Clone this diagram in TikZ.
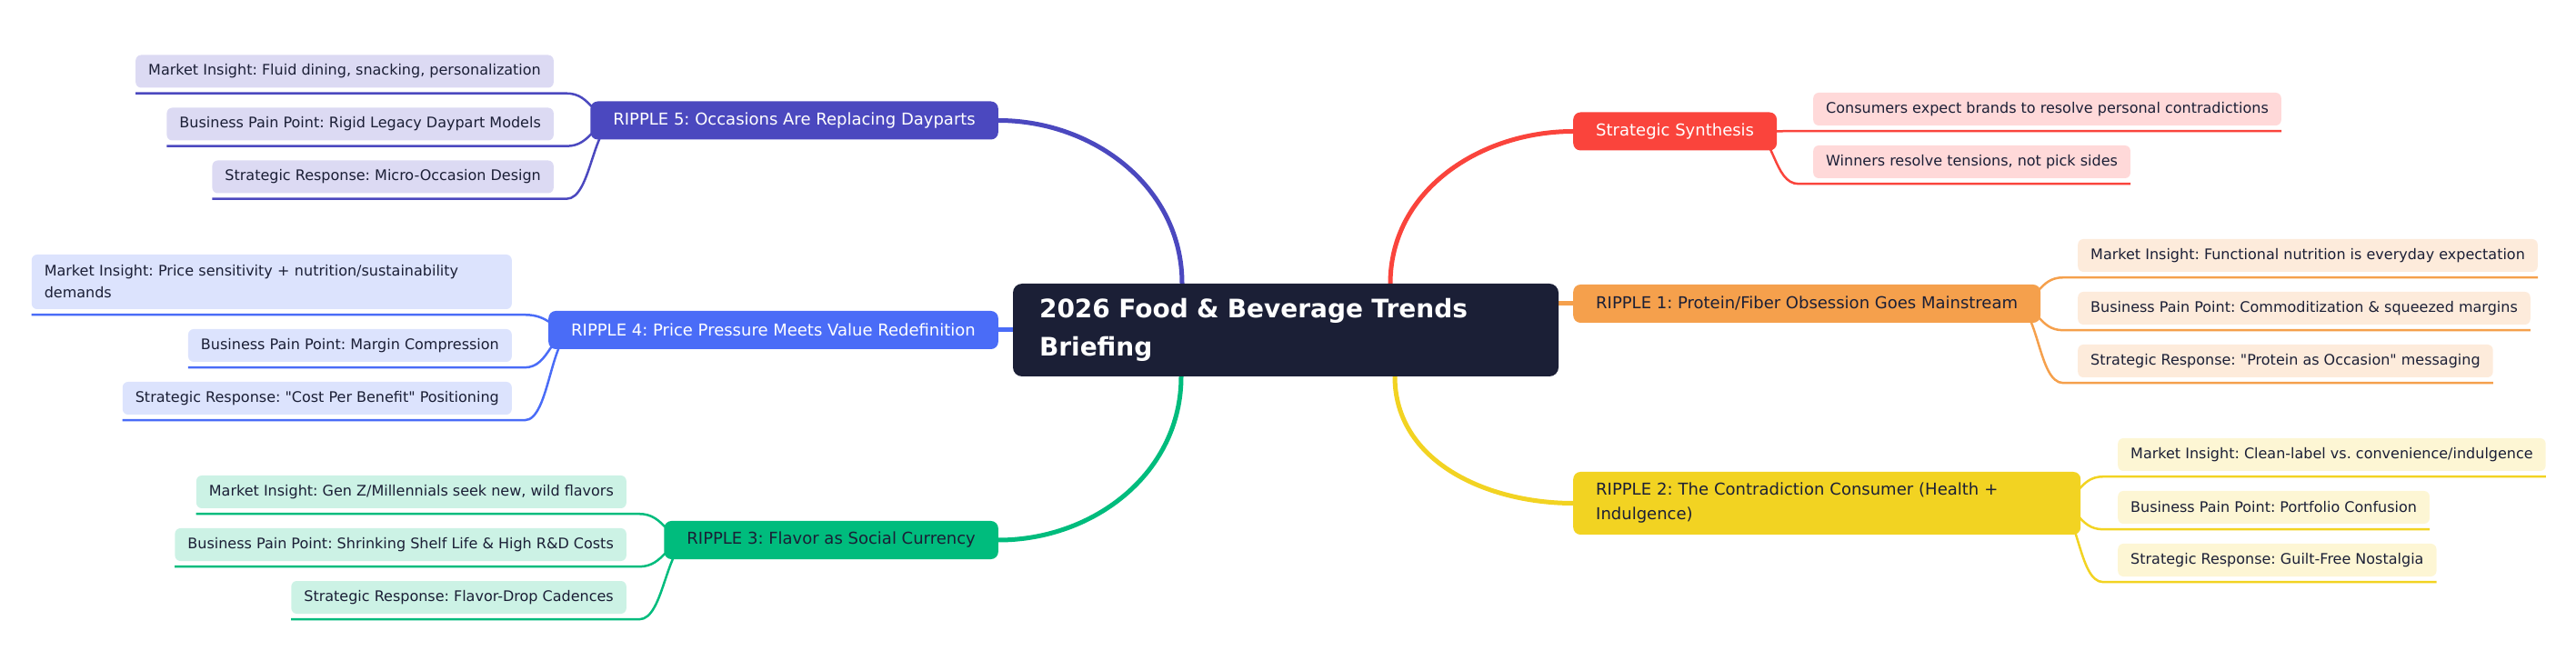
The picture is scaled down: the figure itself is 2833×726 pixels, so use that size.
\documentclass[tikz,border=0pt]{standalone}
\usepackage{fontspec}
\setmainfont{DejaVu Sans}[Ligatures=TeXOff]
\frenchspacing
\usepackage{tikz}
\usetikzlibrary{backgrounds}

\definecolor{ink}{HTML}{1B1F36}
\definecolor{rootbg}{HTML}{1B1F36}
\definecolor{indigo}{HTML}{4B48BF}
\definecolor{indigoL}{HTML}{DCDAF3}
\definecolor{royal}{HTML}{4A6CF7}
\definecolor{royalL}{HTML}{DCE3FD}
\definecolor{emerald}{HTML}{00BC7D}
\definecolor{emeraldL}{HTML}{CCF2E5}
\definecolor{coral}{HTML}{FA443C}
\definecolor{coralL}{HTML}{FFD9D9}
\definecolor{tangerine}{HTML}{F5A04C}
\definecolor{tangerineL}{HTML}{FDEBDB}
\definecolor{mustard}{HTML}{F2D322}
\definecolor{mustardL}{HTML}{FDF6D4}

\begin{document}
\begin{tikzpicture}[x=1pt,y=1pt,
    root node/.style={rectangle,rounded corners=10pt,fill=rootbg,text=white,
      font=\fontsize{28}{42}\selectfont\bfseries,text width=542pt,align=left,
      inner xsep=29pt,minimum height=102pt},
    ripple node/.style={rectangle,rounded corners=8pt,minimum height=42pt,
      inner xsep=25pt,font=\fontsize{18}{27}\selectfont,align=left},
    leaf node/.style={rectangle,rounded corners=6pt,minimum height=36pt,
      inner xsep=14pt,text=ink,font=\fontsize{16}{24}\selectfont,align=left},
    trunk/.style={line width=5pt},
    twig/.style={line width=2.5pt}]
  \useasboundingbox (0,0) rectangle (2833,726);

  %root%
  \node[root node] (root) at (1414,363) {2026 Food \& Beverage Trends\\Briefing};

  %ripples%
  \node[ripple node,fill=indigo,text=white,anchor=east] (r5) at (1098,593.5) {RIPPLE 5: Occasions Are Replacing Dayparts};
  \node[ripple node,fill=royal,text=white,anchor=east] (r4) at (1098,363) {RIPPLE 4: Price Pressure Meets Value Redefinition};
  \node[ripple node,fill=emerald,text=ink,anchor=east] (r3) at (1098,132) {RIPPLE 3: Flavor as Social Currency};
  \node[ripple node,fill=coral,text=white,anchor=west] (ss) at (1730,581.5) {Strategic Synthesis};
  \node[ripple node,fill=tangerine,text=ink,anchor=west] (r1) at (1730,392) {RIPPLE 1: Protein/Fiber Obsession Goes Mainstream};
  \node[ripple node,fill=mustard,text=ink,anchor=west,text width=508pt,minimum height=69pt] (r2) at (1730,172.5) {RIPPLE 2: The Contradiction Consumer (Health +\\Indulgence)};

  %leaves left%
  \node[leaf node,fill=indigoL,anchor=east] (c51) at (609,647.5) {Market Insight: Fluid dining, snacking, personalization};
  \node[leaf node,fill=indigoL,anchor=east] (c52) at (609,589.5) {Business Pain Point: Rigid Legacy Daypart Models};
  \node[leaf node,fill=indigoL,anchor=east] (c53) at (609,531.5) {Strategic Response: Micro-Occasion Design};
  \node[leaf node,fill=royalL,anchor=east,text width=500pt,minimum height=60pt] (c41) at (563,416) {Market Insight: Price sensitivity + nutrition/sustainability\\demands};
  \node[leaf node,fill=royalL,anchor=east] (c42) at (563,346) {Business Pain Point: Margin Compression};
  \node[leaf node,fill=royalL,anchor=east] (c43) at (563,288) {Strategic Response: "Cost Per Benefit" Positioning};
  \node[leaf node,fill=emeraldL,anchor=east] (c31) at (689,185) {Market Insight: Gen Z/Millennials seek new, wild flavors};
  \node[leaf node,fill=emeraldL,anchor=east] (c32) at (689,127) {Business Pain Point: Shrinking Shelf Life \& High R\&D Costs};
  \node[leaf node,fill=emeraldL,anchor=east] (c33) at (689,69) {Strategic Response: Flavor-Drop Cadences};

  %leaves right%
  \node[leaf node,fill=coralL,anchor=west] (cs1) at (1994,606) {Consumers expect brands to resolve personal contradictions};
  \node[leaf node,fill=coralL,anchor=west] (cs2) at (1994,548) {Winners resolve tensions, not pick sides};
  \node[leaf node,fill=tangerineL,anchor=west] (c11) at (2285,445) {Market Insight: Functional nutrition is everyday expectation};
  \node[leaf node,fill=tangerineL,anchor=west] (c12) at (2285,387) {Business Pain Point: Commoditization \& squeezed margins};
  \node[leaf node,fill=tangerineL,anchor=west] (c13) at (2285,329) {Strategic Response: "Protein as Occasion" messaging};
  \node[leaf node,fill=mustardL,anchor=west] (c21) at (2329,226) {Market Insight: Clean-label vs. convenience/indulgence};
  \node[leaf node,fill=mustardL,anchor=west] (c22) at (2329,168) {Business Pain Point: Portfolio Confusion};
  \node[leaf node,fill=mustardL,anchor=west] (c23) at (2329,110) {Strategic Response: Guilt-Free Nostalgia};

  \begin{pgfonlayer}{background}
    %root to ripples%
    \draw[trunk,indigo] ([xshift=-114pt]root.north) to[out=90,in=0] (r5.east);
    \draw[trunk,royal] (root.west) -- (r4.east);
    \draw[trunk,emerald] ([xshift=-115pt]root.south) to[out=-90,in=0] (r3.east);
    \draw[trunk,coral] ([xshift=115pt]root.north) to[out=90,in=180] (ss.west);
    \draw[trunk,tangerine] (r1.west -| root.east) -- (r1.west);
    \draw[trunk,mustard] ([xshift=120pt]root.south) to[out=-90,in=180] (r2.west);

    %ripples to leaves%
    \draw[twig,indigo] ([xshift=30pt]r5.west) .. controls +(-28,0) and +(28,0) .. ([xshift=14pt,yshift=-6pt]c51.south east) -- ([yshift=-6pt]c51.south west);
    \draw[twig,indigo] ([xshift=30pt]r5.west) .. controls +(-28,0) and +(28,0) .. ([xshift=14pt,yshift=-6pt]c52.south east) -- ([yshift=-6pt]c52.south west);
    \draw[twig,indigo] ([xshift=30pt]r5.west) .. controls +(-28,0) and +(28,0) .. ([xshift=14pt,yshift=-6pt]c53.south east) -- ([yshift=-6pt]c53.south west);
    \draw[twig,royal] ([xshift=30pt]r4.west) .. controls +(-28,0) and +(28,0) .. ([xshift=14pt,yshift=-6pt]c41.south east) -- ([yshift=-6pt]c41.south west);
    \draw[twig,royal] ([xshift=30pt]r4.west) .. controls +(-28,0) and +(28,0) .. ([xshift=14pt,yshift=-6pt]c42.south east) -- ([yshift=-6pt]c42.south west);
    \draw[twig,royal] ([xshift=30pt]r4.west) .. controls +(-28,0) and +(28,0) .. ([xshift=14pt,yshift=-6pt]c43.south east) -- ([yshift=-6pt]c43.south west);
    \draw[twig,emerald] ([xshift=30pt]r3.west) .. controls +(-28,0) and +(28,0) .. ([xshift=14pt,yshift=-6pt]c31.south east) -- ([yshift=-6pt]c31.south west);
    \draw[twig,emerald] ([xshift=30pt]r3.west) .. controls +(-28,0) and +(28,0) .. ([xshift=14pt,yshift=-6pt]c32.south east) -- ([yshift=-6pt]c32.south west);
    \draw[twig,emerald] ([xshift=30pt]r3.west) .. controls +(-28,0) and +(28,0) .. ([xshift=14pt,yshift=-6pt]c33.south east) -- ([yshift=-6pt]c33.south west);
    \draw[twig,coral] ([xshift=-30pt]ss.east) .. controls +(28,0) and +(-28,0) .. ([xshift=-16pt,yshift=-6pt]cs1.south west) -- ([yshift=-6pt]cs1.south east);
    \draw[twig,coral] ([xshift=-30pt]ss.east) .. controls +(28,0) and +(-28,0) .. ([xshift=-16pt,yshift=-6pt]cs2.south west) -- ([yshift=-6pt]cs2.south east);
    \draw[twig,tangerine] ([xshift=-30pt]r1.east) .. controls +(28,0) and +(-28,0) .. ([xshift=-16pt,yshift=-6pt]c11.south west) -- ([yshift=-6pt]c11.south east);
    \draw[twig,tangerine] ([xshift=-30pt]r1.east) .. controls +(28,0) and +(-28,0) .. ([xshift=-16pt,yshift=-6pt]c12.south west) -- ([yshift=-6pt]c12.south east);
    \draw[twig,tangerine] ([xshift=-30pt]r1.east) .. controls +(28,0) and +(-28,0) .. ([xshift=-16pt,yshift=-6pt]c13.south west) -- ([yshift=-6pt]c13.south east);
    \draw[twig,mustard] ([xshift=-30pt]r2.east) .. controls +(28,0) and +(-28,0) .. ([xshift=-16pt,yshift=-6pt]c21.south west) -- ([yshift=-6pt]c21.south east);
    \draw[twig,mustard] ([xshift=-30pt]r2.east) .. controls +(28,0) and +(-28,0) .. ([xshift=-16pt,yshift=-6pt]c22.south west) -- ([yshift=-6pt]c22.south east);
    \draw[twig,mustard] ([xshift=-30pt]r2.east) .. controls +(28,0) and +(-28,0) .. ([xshift=-16pt,yshift=-6pt]c23.south west) -- ([yshift=-6pt]c23.south east);
  \end{pgfonlayer}
\end{tikzpicture}
\end{document}
